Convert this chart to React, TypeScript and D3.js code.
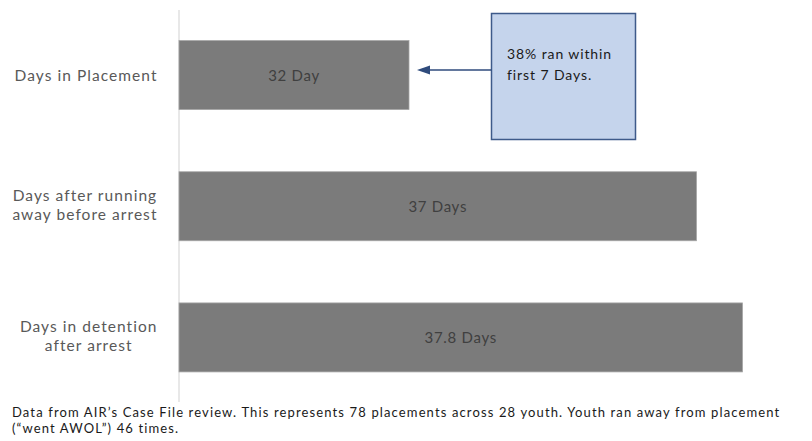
import React from "react";
import * as d3 from "d3";

const categories = ["Days in Placement", "Days after running away before arrest", "Days in detention after arrest"];
const labelLines = [["Days in Placement"], ["Days after running", "away before arrest"], ["Days in detention", "after arrest"]];
const values = [32, 37, 37.8];
const valueLabels = ["32 Day", "37 Days", "37.8 Days"];
const xDomain = [28, 38];
const calloutLines = ["38% ran within", "first 7 Days."];
const footnoteLines = [
  "Data from AIR\u2019s Case File review. This represents 78 placements across 28 youth. Youth ran away from placement",
  "(\u201cwent AWOL\u201d) 46 times.",
];

const W = 812;
const H = 441;
const FONT = "Lato, 'Open Sans', sans-serif";

export default function App() {
  const x = d3.scaleLinear().domain(xDomain).range([179, 754]);
  const y = d3.scaleBand<string>().domain(categories).range([9.5, 403]).paddingInner(0.474).paddingOuter(0.237);
  const bw = y.bandwidth();
  const labelRight = 157.5;

  const box = { x: 491.5, y: 13.5, w: 144, h: 126 };
  const arrowY = 70;
  const tipX = x(values[0]) + 8;

  return (
    <svg width={W} height={H} style={{ position: "absolute", left: 0, top: 0, background: "#fff" }} fontFamily={FONT}>
      {/* axis line */}
      <line x1={179} x2={179} y1={10} y2={402} stroke="#d9d9d9" strokeWidth={1.2} />
      {categories.map((c, i) => {
        const y0 = y(c)!;
        const cy = y0 + bw / 2;
        const lines = labelLines[i];
        const offsets = lines.length === 1 ? [5.5] : [-5.5, 14];
        return (
          <g key={c}>
            <rect x={x(xDomain[0])} y={y0} width={x(values[i]) - x(xDomain[0])} height={bw} fill="#7b7b7b" stroke="#a6a6a6" strokeWidth={0.8} />
            <text x={(x(xDomain[0]) + x(values[i])) / 2} y={cy + 5.5} textAnchor="middle" fontSize={15} letterSpacing={0.7} fill="#404040">
              {valueLabels[i]}
            </text>
            <LabelBlock lines={lines} cy={cy} offsets={offsets} right={labelRight} />
          </g>
        );
      })}
      {/* callout */}
      <rect x={box.x} y={box.y} width={box.w} height={box.h} fill="#c5d4ec" stroke="#3e5a8a" strokeWidth={1.5} />
      {calloutLines.map((l, i) => (
        <text key={l} x={507} y={59 + i * 20.5} fontSize={14} letterSpacing={0.9} fill="#1a1a1a">
          {l}
        </text>
      ))}
      <line x1={box.x} x2={tipX + 11} y1={arrowY} y2={arrowY} stroke="#2f4b7c" strokeWidth={1.6} />
      <path d={`M${tipX},${arrowY} L${tipX + 13},${arrowY - 4.5} L${tipX + 13},${arrowY + 4.5} Z`} fill="#2f4b7c" />
      {/* footnote */}
      {footnoteLines.map((l, i) => (
        <text key={i} x={12} y={417 + i * 16} fontSize={13} letterSpacing={1.13} fill="#1a1a1a">
          {l}
        </text>
      ))}
    </svg>
  );
}

function LabelBlock({ lines, cy, offsets, right }: { lines: string[]; cy: number; offsets: number[]; right: number }) {
  const ref = React.useRef<SVGGElement>(null);
  React.useEffect(() => {
    const g = ref.current;
    if (!g) return;
    const texts = Array.from(g.querySelectorAll("text")) as SVGTextElement[];
    const widths = texts.map((t) => t.getComputedTextLength());
    const maxW = Math.max(...widths);
    const center = right - maxW / 2;
    d3.select(g).selectAll("text").attr("x", center);
  }, [lines, right]);
  return (
    <g ref={ref}>
      {lines.map((l, j) => (
        <text key={j} x={right} y={cy + offsets[j]} textAnchor="middle" fontSize={15.5} letterSpacing={1.05} fill="#595959">
          {l}
        </text>
      ))}
    </g>
  );
}
